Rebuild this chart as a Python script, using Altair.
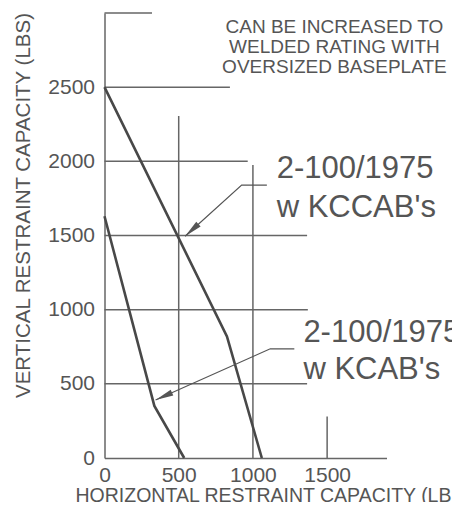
import math
import altair as alt
import pandas as pd

# ---- data ----
kccab_h = [0, 825, 1060]
kccab_v = [2500, 820, 0]
kcab_h = [0, 336, 537]
kcab_v = [1630, 351, 0]

hgrid_y = [3000, 2500, 2000, 1500, 1000, 500]
hgrid_end = [320, 845, 965, 1365, 1370, 1365]
vgrid_x = [500, 1000, 1500]
vgrid_end = [2305, 1975, 280]

x_ticks = [0, 500, 1000, 1500]
y_ticks = [0, 500, 1000, 1500, 2000, 2500]

label_lines = ["2-100/1975", "w KCCAB's", "2-100/1975", "w KCAB's"]
label_x = [1160, 1160, 1340, 1340]
label_y = [1886, 1627, 784, 531]

note_lines = ["CAN BE INCREASED TO", "WELDED RATING WITH", "OVERSIZED BASEPLATE"]
note_x = [1549, 1549, 1549]
note_y = [2866, 2731, 2596]

lead1_h = [1094, 924, 543]
lead1_v = [1840, 1840, 1495]
lead2_h = [1279, 1117, 344]
lead2_v = [736, 736, 391]

FONT = "Liberation Sans"
INK = "#555555"
LINE = "#666666"

XS = alt.Scale(domain=[0, 1900], nice=False, zero=False)
YS = alt.Scale(domain=[0, 3000], nice=False, zero=False)

curves = pd.DataFrame(
    [{"s": "KCCAB", "i": i, "h": h, "v": v} for i, (h, v) in enumerate(zip(kccab_h, kccab_v))]
    + [{"s": "KCAB", "i": i, "h": h, "v": v} for i, (h, v) in enumerate(zip(kcab_h, kcab_v))]
)

hgrid = pd.DataFrame({"h": [0] * len(hgrid_y), "h2": hgrid_end, "v": hgrid_y})
vgrid = pd.DataFrame({"h": vgrid_x, "v": [0] * len(vgrid_x), "v2": vgrid_end})

leaders = pd.DataFrame(
    [{"s": "a", "i": i, "h": h, "v": v} for i, (h, v) in enumerate(zip(lead1_h, lead1_v))]
    + [{"s": "b", "i": i, "h": h, "v": v} for i, (h, v) in enumerate(zip(lead2_h, lead2_v))]
)

def head_angle(hs, vs):
    dx = hs[-1] - hs[-2]
    dy = vs[-1] - vs[-2]
    return math.degrees(math.atan2(dx, dy)) % 360

heads = pd.DataFrame({
    "h": [lead1_h[-1], lead2_h[-1]],
    "v": [lead1_v[-1], lead2_v[-1]],
    "ang": [head_angle(lead1_h, lead1_v), head_angle(lead2_h, lead2_v)],
})

labels = pd.DataFrame({"t": label_lines, "h": label_x, "v": label_y})
notes = pd.DataFrame({"t": note_lines, "h": note_x, "v": note_y})

x_axis = alt.Axis(
    values=x_ticks, format="d", ticks=False, grid=False, labelFlush=False, labelOverlap=False,
    labelFont=FONT, labelFontSize=21, labelColor=INK, labelPadding=6,
    domainColor=LINE, domainWidth=1.5,
    title="HORIZONTAL RESTRAINT CAPACITY (LBS)", titleFont=FONT, titleFontSize=19.5,
    titleFontWeight="normal", titleColor=INK, titleAlign="left",
    titleBaseline="alphabetic", titleX=-29.5, titleY=43.5,
)
y_axis = alt.Axis(
    values=y_ticks, format="d", ticks=False, grid=False, labelFlush=False, labelOverlap=False,
    labelFont=FONT, labelFontSize=21, labelColor=INK, labelPadding=10,
    domainColor=LINE, domainWidth=1.5,
    title="VERTICAL RESTRAINT CAPACITY (LBS)", titleFont=FONT, titleFontSize=20.5,
    titleFontWeight="normal", titleColor=INK, titleAngle=270, titleAlign="center",
    titleBaseline="middle", titleX=-81.5, titleY=192,
)

X = alt.X("h:Q", scale=XS, axis=x_axis)
Y = alt.Y("v:Q", scale=YS, axis=y_axis)

curve_layer = alt.Chart(curves).mark_line(color="#484848", strokeWidth=2.6).encode(
    x=X, y=Y, detail="s:N", order="i:Q",
)

hgrid_layer = alt.Chart(hgrid).mark_rule(color=LINE, strokeWidth=1.5).encode(
    x=X, x2="h2:Q", y=Y,
)
vgrid_layer = alt.Chart(vgrid).mark_rule(color=LINE, strokeWidth=1.5).encode(
    x=X, y=Y, y2="v2:Q",
)

leader_layer = alt.Chart(leaders).mark_line(color=INK, strokeWidth=1.2).encode(
    x=X, y=Y, detail="s:N", order="i:Q",
)

head_layer = alt.Chart(heads).mark_point(
    shape="M0,0L0.36,2L-0.36,2Z", filled=True, opacity=1, color=INK, size=324, strokeWidth=0
).encode(
    x=X, y=Y, angle=alt.Angle("ang:Q", scale=None),
)

label_layer = alt.Chart(labels).mark_text(
    font=FONT, fontSize=31, color=INK, align="left", baseline="alphabetic"
).encode(x=X, y=Y, text="t:N")

note_layer = alt.Chart(notes).mark_text(
    font=FONT, fontSize=19, color=INK, align="center", baseline="alphabetic"
).encode(x=X, y=Y, text="t:N")

chart = alt.layer(
    hgrid_layer, vgrid_layer, curve_layer, leader_layer, head_layer, label_layer, note_layer
).properties(
    width=282,
    height=445,
    autosize=alt.AutoSizeParams(type="none"),
    padding={"left": 96.5, "top": 5, "right": 65.5, "bottom": 44},
    background="white",
).configure_view(stroke=None)

chart.save("out.html", embed_options={"renderer": "svg", "actions": False})
